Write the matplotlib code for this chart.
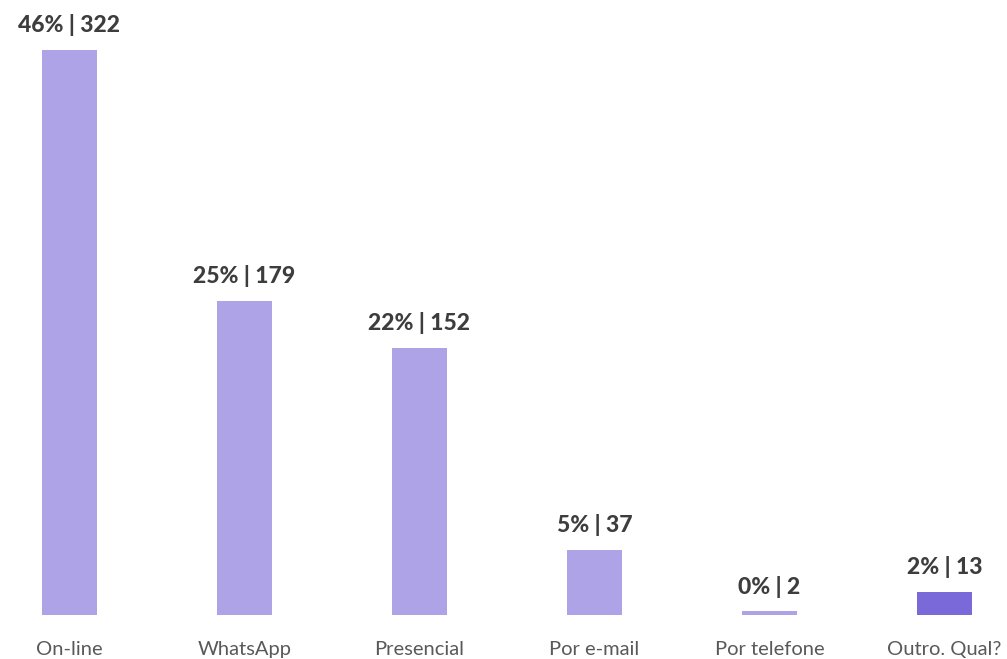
import matplotlib
matplotlib.use("Agg")
import matplotlib.pyplot as plt

categories = ["On-line", "WhatsApp", "Presencial", "Por e-mail", "Por telefone", "Outro. Qual?"]
counts = [322, 179, 152, 37, 2, 13]
percents = ["46%", "25%", "22%", "5%", "0%", "2%"]
colors = ["#ADA3E6", "#ADA3E6", "#ADA3E6", "#ADA3E6", "#ADA3E6", "#7A69D8"]

W, H = 1007, 659
fig = plt.figure(figsize=(W / 100, H / 100), dpi=100)
ax = fig.add_axes([0, 44 / H, 1, 615 / H])

x = list(range(len(categories)))
scale = 175.0
ax.bar(x, counts, width=55 / scale, color=colors, zorder=2)
ax.set_xlim(-69.5 / scale, (W - 69.5) / scale)
ax.set_ylim(0, 615 / (565 / 322))

for xi, c, p in zip(x, counts, percents):
    ax.annotate(f"{p} | {c}", xy=(xi, c), xytext=(0, 10), textcoords="offset points",
                ha="center", va="bottom", fontsize=16.5, fontweight="black",
                family="Lato", color="#3d3d3d")

ax.set_xticks(x)
ax.set_xticklabels(categories, family="Lato", fontsize=14.5, color="#595959")
ax.tick_params(axis="x", length=0, pad=19)
ax.set_yticks([])
for s in ax.spines.values():
    s.set_visible(False)

fig.savefig("out.png", dpi=100)
